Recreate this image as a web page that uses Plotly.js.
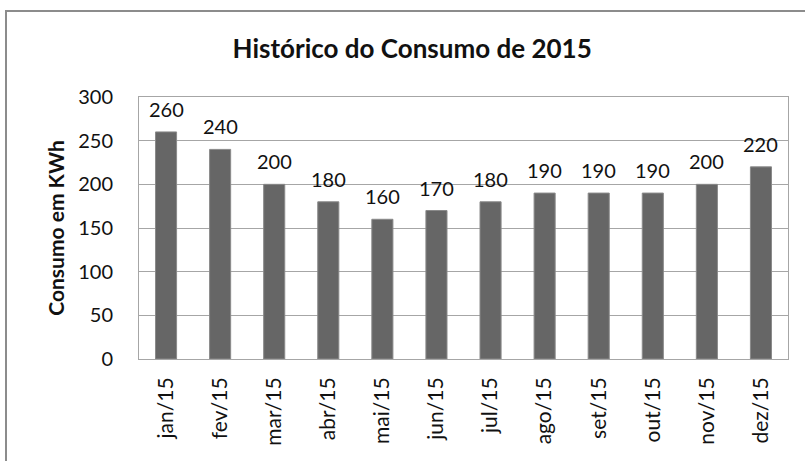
<!DOCTYPE html>
<html><head><meta charset="utf-8">
<script src="https://cdn.plot.ly/plotly-3.0.1.min.js"></script>
<style>
html,body{margin:0;padding:0;background:#fff;overflow:hidden}
#chart{width:805px;height:461px}
#frame{position:absolute;left:5px;top:10px;width:900px;height:600px;border:2px solid #8c8c8c;pointer-events:none;box-sizing:border-box}
</style></head>
<body>
<div id="chart"></div>
<div id="frame"></div>
<script>
const categories = ["jan/15","fev/15","mar/15","abr/15","mai/15","jun/15","jul/15","ago/15","set/15","out/15","nov/15","dez/15"];
const consumo = [260,240,200,180,160,170,180,190,190,190,200,220];
const yTicks = [0,50,100,150,200,250,300];

const font = "Lato, 'Open Sans', sans-serif";
const labels = categories.map((c, i) => ({
  x: c, y: consumo[i], text: String(consumo[i]),
  xref: 'x', yref: 'y', xanchor: 'center', yanchor: 'bottom',
  yshift: 9, showarrow: false,
  font: {family: font, size: 20, color: '#111'}
}));

Plotly.newPlot('chart', [{
  type: 'bar',
  x: categories,
  y: consumo,
  marker: {color: '#666666', line: {color: '#8a8a8a', width: 1}},
  hoverinfo: 'none'
}], {
  width: 805, height: 461,
  margin: {l: 139, r: 17, t: 97, b: 102},
  paper_bgcolor: '#fff', plot_bgcolor: '#fff',
  bargap: 0.61,
  showlegend: false,
  annotations: labels,
  title: {text: '<b>Histórico do Consumo de 2015</b>', x: 0.512, xanchor: 'center', y: 0.895, yanchor: 'middle',
          font: {family: font, size: 26, color: '#111'}},
  xaxis: {
    type: 'category', tickangle: -90, showgrid: false,
    showline: true, linecolor: '#a6a6a6', linewidth: 1, mirror: true,
    ticks: '', ticklabelstandoff: 9,
    tickfont: {family: font, size: 21, color: '#111'}
  },
  yaxis: {
    range: [0, 300], tickvals: yTicks, ticktext: yTicks.map(String),
    showgrid: true, gridcolor: '#a6a6a6', gridwidth: 1, zeroline: false,
    showline: true, linecolor: '#a6a6a6', linewidth: 1, mirror: true,
    ticks: '', ticklabelstandoff: 21,
    tickfont: {family: font, size: 20, color: '#111'},
    title: {text: '<b>Consumo em KWh</b>', standoff: 7, font: {family: font, size: 21, color: '#111'}}
  }
}, {staticPlot: true});
</script>
</body></html>
